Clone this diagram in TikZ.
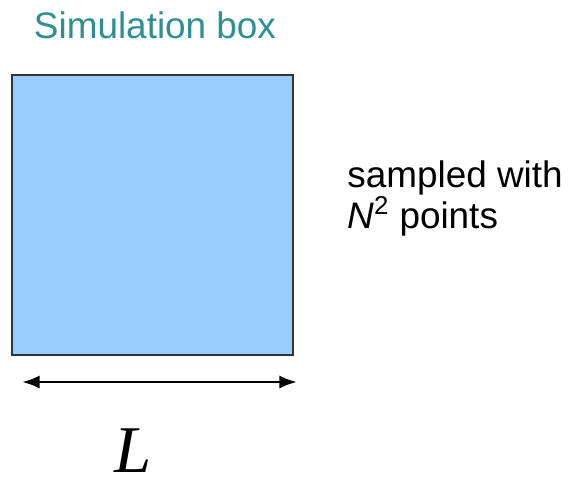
\documentclass[tikz,border=0pt]{standalone}
\usepackage{fontspec}
\setmainfont{Liberation Sans}
\newfontfamily\lenfont{Liberation Serif}
\usetikzlibrary{positioning}
\usetikzlibrary{arrows.meta}
\definecolor{tealtxt}{rgb}{0.18, 0.56, 0.56}
\definecolor{boxblue}{rgb}{0.6, 0.8, 1.0}
\definecolor{edgegray}{rgb}{0.2, 0.2, 0.2}
\tikzset{
    simbox/.style={draw=edgegray, fill=boxblue, line width=1pt,
        minimum width=5.62cm, minimum height=5.6cm, inner sep=0pt},
    lenarrow/.style={{Latex[length=10pt,width=7.5pt]}-{Latex[length=10pt,width=7.5pt]}, line width=1.6pt},
    sanslabel/.style={font=\fontsize{21}{20.4}\selectfont, inner sep=0pt},
}

\begin{document}
\begin{tikzpicture}[x=0.02cm, y=-0.02cm]
    \useasboundingbox (0,0) rectangle (574,481);
    \node[simbox] (box) at (152.5,215) {};
    \node[sanslabel, tealtxt, anchor=base] (title) at (155,38) {Simulation box};
    \coordinate (larr) at (22,382);
    \coordinate (rarr) at (297,382);
    \draw[lenarrow] (larr) -- (rarr);
    \node[inner sep=0pt, text depth=0pt, anchor=base, font=\fontsize{38}{38}\selectfont\lenfont\itshape] (len) at (133,472) {L};
    \node[sanslabel, anchor=base west, align=left] (sample) at (347,228) {sampled with\\\textit{N}\textsuperscript{2} points};
\end{tikzpicture}
\end{document}
